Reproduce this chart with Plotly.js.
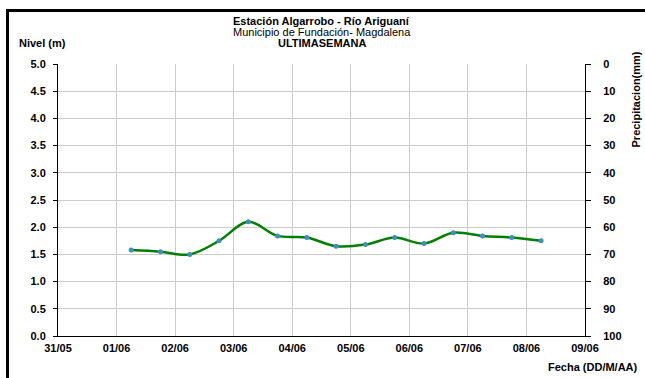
<!DOCTYPE html>
<html>
<head>
<meta charset="utf-8">
<script src="https://cdn.plot.ly/plotly-3.0.1.min.js"></script>
<style>
html,body{margin:0;padding:0;background:#fff;}
#chart{width:645px;height:378px;}
#frame{position:absolute;left:6px;top:9px;width:700px;height:400px;border-left:3px solid #000;border-top:3px solid #000;pointer-events:none;}
</style>
</head>
<body>
<div id="chart"></div>
<div id="frame"></div>
<script>
// Data (level every 12 h)
const times = [
  "2014-06-01 06:00","2014-06-01 18:00","2014-06-02 06:00","2014-06-02 18:00",
  "2014-06-03 06:00","2014-06-03 18:00","2014-06-04 06:00","2014-06-04 18:00",
  "2014-06-05 06:00","2014-06-05 18:00","2014-06-06 06:00","2014-06-06 18:00",
  "2014-06-07 06:00","2014-06-07 18:00","2014-06-08 06:00"
];
const nivel = [1.58,1.55,1.50,1.75,2.10,1.84,1.81,1.65,1.68,1.81,1.70,1.90,1.84,1.81,1.75];
const precipTimes = [];
const precip = [];
const xRange = ["2014-05-31","2014-06-09"];
const yTicks = [0,0.5,1,1.5,2,2.5,3,3.5,4,4.5,5];
const y2Ticks = [0,10,20,30,40,50,60,70,80,90,100];

const F = "Liberation Sans, Arial, sans-serif";
const bold = {family:F,size:11,color:"#000",weight:"bold"};

const traces = [
  {x:times,y:nivel,type:"scatter",mode:"lines+markers",
   line:{color:"#008000",width:2.5,shape:"spline",smoothing:1},
   marker:{color:"#3d8fc0",size:5},hoverinfo:"skip",showlegend:false},
  {x:precipTimes,y:precip,type:"bar",yaxis:"y2",marker:{color:"#3d6fc0"},showlegend:false}
];

const layout = {
  width:645,height:378,
  margin:{l:58,r:60,t:64,b:42},
  paper_bgcolor:"#fff",plot_bgcolor:"#fff",
  showlegend:false,
  xaxis:{type:"date",range:xRange,dtick:86400000,tick0:"2014-05-31",tickformat:"%d/%m",
    showgrid:true,gridcolor:"#cccccc",gridwidth:1,
    showline:true,linecolor:"#000",linewidth:1,
    ticks:"",tickfont:bold,ticklabelstandoff:2,zeroline:false,fixedrange:true},
  yaxis:{range:[0,5],tickvals:yTicks,tickformat:".1f",
    showgrid:true,gridcolor:"#cccccc",gridwidth:1,
    showline:true,linecolor:"#000",linewidth:1,
    ticks:"outside",ticklen:4,tickcolor:"#000",tickfont:bold,ticklabelstandoff:5,zeroline:false},
  yaxis2:{range:[100,0],tickvals:y2Ticks,overlaying:"y",side:"right",
    showgrid:false,showline:true,linecolor:"#000",linewidth:1,
    ticks:"outside",ticklen:5,tickcolor:"#000",tickfont:bold,ticklabelstandoff:10,zeroline:false},
  annotations:[
    {text:"<b>Estación Algarrobo - Río Ariguaní</b>",
     xref:"paper",yref:"paper",x:0.5,y:1.158,xanchor:"center",yanchor:"middle",
     showarrow:false,font:{family:F,size:11,color:"#000"}},
    {text:"Municipio de Fundación- Magdalena",
     xref:"paper",yref:"paper",x:0.5,y:1.118,xanchor:"center",yanchor:"middle",
     showarrow:false,font:{family:F,size:11,color:"#000"}},
    {text:"<b>ULTIMASEMANA</b>",
     xref:"paper",yref:"paper",x:0.5,y:1.078,xanchor:"center",yanchor:"middle",
     showarrow:false,font:{family:F,size:11,color:"#000"}},
    {text:"<b>Nivel (m)</b>",xref:"paper",yref:"paper",x:-0.078,y:1.078,xanchor:"left",yanchor:"middle",
     showarrow:false,font:{family:F,size:11,color:"#000"}},
    {text:"<b>Precipitacion(mm)</b>",xref:"paper",yref:"paper",x:1.097,y:0.87,xanchor:"center",yanchor:"middle",
     textangle:-90,showarrow:false,font:{family:F,size:11,color:"#000"}},
    {text:"<b>Fecha (DD/M/AA)</b>",xref:"paper",yref:"paper",x:1.105,y:-0.085,xanchor:"right",yanchor:"top",
     showarrow:false,font:{family:F,size:11,color:"#000"}}
  ]
};

Plotly.newPlot("chart",traces,layout,{displayModeBar:false,staticPlot:true});
</script>
</body>
</html>
